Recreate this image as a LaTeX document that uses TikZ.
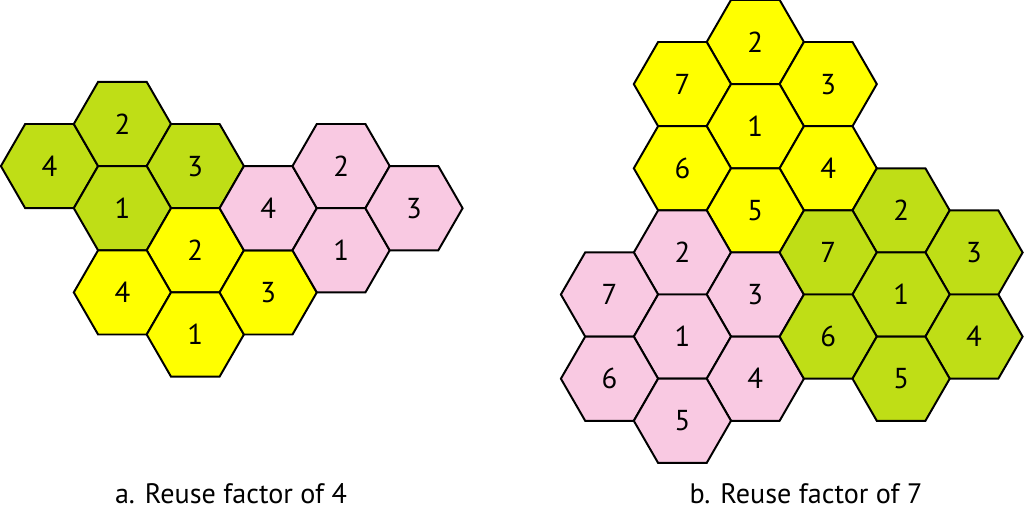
\documentclass[tikz,border=0pt]{standalone}
\usepackage{fontspec}
\setmainfont{PT Sans}
\usetikzlibrary{shapes.geometric}
\definecolor{cgreen}{RGB}{191,222,22}
\definecolor{cyellow}{RGB}{255,255,0}
\definecolor{cpink}{RGB}{249,201,226}
\tikzset{
  hexcell/.style={regular polygon, regular polygon sides=6, minimum size=2.43cm,
    inner sep=0pt, outer sep=0pt, draw=black, line width=1.4pt,
    font=\fontsize{20.5}{23}\selectfont},
  gcell/.style={hexcell, fill=cgreen},
  ycell/.style={hexcell, fill=cyellow},
  pcell/.style={hexcell, fill=cpink},
  caption/.style={font=\fontsize{20}{23}\selectfont, inner sep=0pt}
}
\begin{document}
\begin{tikzpicture}[x=0.025cm, y=-0.025cm, line join=miter]
\useasboundingbox (0,0) rectangle (1024,517);
% Figure a
\node[gcell] (ag4) at (49.5,166.1) {4};
\node[gcell] (ag2) at (122.4,124) {2};
\node[gcell] (ag3) at (195.3,166.1) {3};
\node[gcell] (ag1) at (122.4,208.2) {1};
\node[ycell] (ay2) at (195.3,250.3) {2};
\node[ycell] (ay4) at (122.4,292.4) {4};
\node[ycell] (ay1) at (195.3,334.5) {1};
\node[ycell] (ay3) at (268.2,292.4) {3};
\node[pcell] (ap4) at (268.2,208.2) {4};
\node[pcell] (ap2) at (341.1,166.1) {2};
\node[pcell] (ap1) at (341.1,250.3) {1};
\node[pcell] (ap3) at (414.0,208.2) {3};
% Figure b
\node[ycell] (by2) at (755.3,42) {2};
\node[ycell] (by7) at (682.4,84.1) {7};
\node[ycell] (by3) at (828.2,84.1) {3};
\node[ycell] (by1) at (755.3,126.2) {1};
\node[ycell] (by6) at (682.4,168.3) {6};
\node[ycell] (by4) at (828.2,168.3) {4};
\node[ycell] (by5) at (755.3,210.4) {5};
\node[pcell] (bp2) at (682.4,252.5) {2};
\node[pcell] (bp7) at (609.5,294.5) {7};
\node[pcell] (bp3) at (755.3,294.5) {3};
\node[pcell] (bp1) at (682.4,336.6) {1};
\node[pcell] (bp6) at (609.5,378.7) {6};
\node[pcell] (bp4) at (755.3,378.7) {4};
\node[pcell] (bp5) at (682.4,420.8) {5};
\node[gcell] (bg2) at (901.1,210.4) {2};
\node[gcell] (bg7) at (828.2,252.5) {7};
\node[gcell] (bg3) at (974.0,252.5) {3};
\node[gcell] (bg1) at (901.1,294.5) {1};
\node[gcell] (bg6) at (828.2,336.6) {6};
\node[gcell] (bg4) at (974.0,336.6) {4};
\node[gcell] (bg5) at (901.1,378.7) {5};
% Captions
\node[caption] (capa) at (231,494) {a. Reuse factor of 4};
\node[caption] (capb) at (806,494) {b. Reuse factor of 7};
\end{tikzpicture}
\end{document}
